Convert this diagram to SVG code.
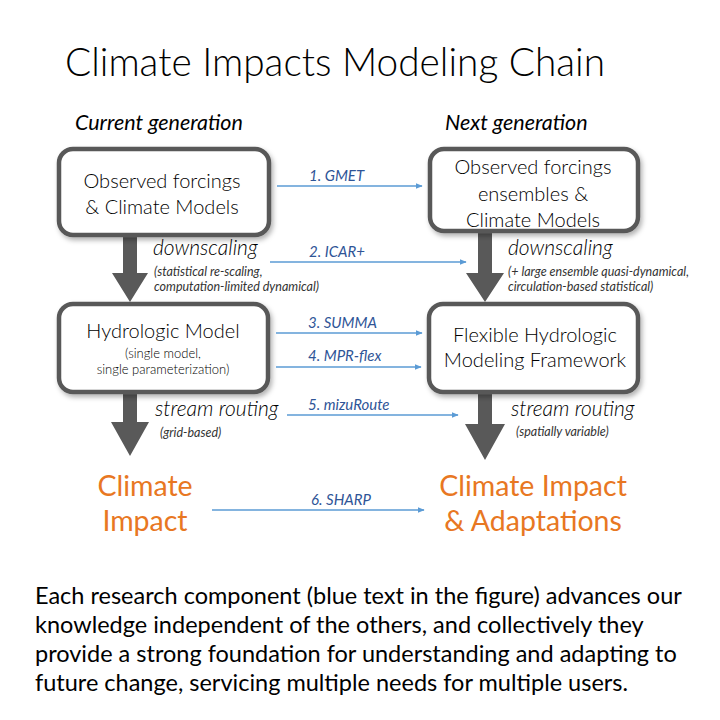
<svg xmlns="http://www.w3.org/2000/svg" width="720" height="720" viewBox="0 0 720 720">
<defs>
<filter id="sh" x="-10%" y="-10%" width="130%" height="130%">
<feDropShadow dx="2" dy="3" stdDeviation="2.5" flood-color="#000" flood-opacity="0.3"/>
</filter>
<marker id="ah" viewBox="0 0 10 10" refX="9" refY="5" markerWidth="7" markerHeight="7" orient="auto" markerUnits="userSpaceOnUse">
<path d="M0,1 L10,5 L0,9 z" fill="#5B9BD5"/>
</marker>
<style>
.t{font-family:Lato,"Open Sans","Liberation Sans",sans-serif;fill:#000}
.title{font-size:38.8px;font-weight:300}
.hdr{font-size:21.5px;font-style:italic}
.box{fill:#fff;stroke:#595959;stroke-width:4.5}
.bt{font-size:20px;font-weight:300;text-anchor:middle}
.sm{font-size:13px;font-weight:300;text-anchor:middle}
.lab{font-size:21px;font-style:italic;font-weight:300}
.sub{font-size:12.5px;font-style:italic;fill:#333}
.blue{font-size:15px;font-style:italic;fill:#2F5597}
.bl{stroke:#5B9BD5;stroke-width:1.3;fill:none}
.or{font-size:28.5px;fill:#E87722;text-anchor:middle}
.fat{fill:#595959}
.para{font-size:23.5px}
</style>
</defs>
<text class="t title" x="335" y="76" text-anchor="middle">Climate Impacts Modeling Chain</text>
<text class="t hdr" x="75" y="130">Current generation</text>
<text class="t hdr" x="445" y="130">Next generation</text>

<g id="fat-arrows">
<path class="fat" d="M123,236 H137 V273 H148 L130,302 L112,273 H123 Z"/>
<path class="fat" d="M478,232 H492 V273 H504 L485,302 L466,273 H478 Z"/>
<path class="fat" d="M123,393 H137 V422 H149 L130,456 L111,422 H123 Z"/>
<path class="fat" d="M478,393 H492 V424 H505 L485,460 L465,424 H478 Z"/>
</g>

<g id="box-observed">
<rect class="box" x="59" y="149" width="210" height="86" rx="14" filter="url(#sh)"/>
<text class="t bt" x="162" y="188">Observed forcings</text>
<text class="t bt" x="162" y="214">&amp; Climate Models</text>
</g>
<g id="box-observed-ens">
<rect class="box" x="430" y="149" width="208" height="82" rx="14" filter="url(#sh)"/>
<text class="t bt" x="533" y="174">Observed forcings</text>
<text class="t bt" x="533" y="201">ensembles &amp;</text>
<text class="t bt" x="533" y="227">Climate Models</text>
</g>
<g id="box-hydro">
<rect class="box" x="59" y="304" width="209" height="88" rx="14" filter="url(#sh)"/>
<text class="t bt" x="163" y="338">Hydrologic Model</text>
<text class="t sm" x="163" y="358">(single model,</text>
<text class="t sm" x="163" y="374">single parameterization)</text>
</g>
<g id="box-flex">
<rect class="box" x="429" y="304" width="209" height="88" rx="14" filter="url(#sh)"/>
<text class="t bt" x="535" y="342">Flexible Hydrologic</text>
<text class="t bt" x="535" y="367">Modeling Framework</text>
</g>
<g id="impact-current">
<text class="t or" x="145" y="496">Climate</text>
<text class="t or" x="145" y="531">Impact</text>
</g>
<g id="impact-next">
<text class="t or" x="533" y="496">Climate Impact</text>
<text class="t or" x="533" y="531">&amp; Adaptations</text>
</g>

<g id="labels">
<text class="t lab" x="153" y="255">downscaling</text>
<text class="t sub" x="154" y="276">(statistical re-scaling,</text>
<text class="t sub" x="154" y="291">computation-limited dynamical)</text>
<text class="t lab" x="508" y="255">downscaling</text>
<text class="t sub" x="508" y="276">(+ large ensemble quasi-dynamical,</text>
<text class="t sub" x="508" y="291">circulation-based statistical)</text>
<text class="t lab" x="155" y="416">stream routing</text>
<text class="t sub" x="160" y="437">(grid-based)</text>
<text class="t lab" x="511" y="416">stream routing</text>
<text class="t sub" x="516" y="436">(spatially variable)</text>
</g>

<g id="connectors">
<line class="bl" x1="277" y1="186" x2="422" y2="186" marker-end="url(#ah)"/>
<line class="bl" x1="270" y1="262" x2="466" y2="262" marker-end="url(#ah)"/>
<line class="bl" x1="276" y1="333" x2="422" y2="333" marker-end="url(#ah)"/>
<line class="bl" x1="276" y1="367" x2="421" y2="367" marker-end="url(#ah)"/>
<line class="bl" x1="287" y1="415" x2="458" y2="415" marker-end="url(#ah)"/>
<line class="bl" x1="212" y1="510" x2="424" y2="510" marker-end="url(#ah)"/>
<text class="t blue" x="309" y="181">1. GMET</text>
<text class="t blue" x="309" y="257">2. ICAR+</text>
<text class="t blue" x="308" y="328">3. SUMMA</text>
<text class="t blue" x="308" y="361">4. MPR-flex</text>
<text class="t blue" x="308" y="410">5. mizuRoute</text>
<text class="t blue" x="311" y="505">6. SHARP</text>
</g>

<g id="caption">
<text class="t para" x="35" y="604">Each research component (blue text in the figure) advances our</text>
<text class="t para" x="35" y="633">knowledge independent of the others, and collectively they</text>
<text class="t para" x="35" y="662">provide a strong foundation for understanding and adapting to</text>
<text class="t para" x="35" y="691">future change, servicing multiple needs for multiple users.</text>
</g>
</svg>
